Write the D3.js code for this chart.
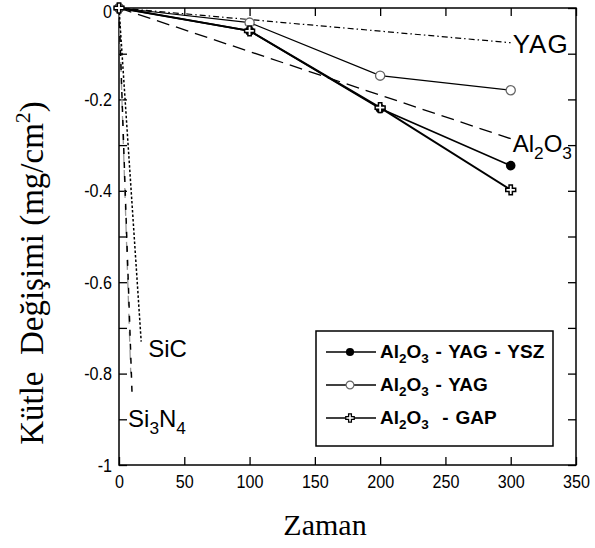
<!DOCTYPE html>
<html>
<head>
<meta charset="utf-8">
<script src="https://cdn.jsdelivr.net/npm/d3@7"></script>
<style>
  body { margin: 0; background: #fff; }
  svg { display: block; }
  text { font-family: "Liberation Sans", Arial, sans-serif; fill: #000; }
  .serif { font-family: "Liberation Serif", "Times New Roman", serif; }
</style>
</head>
<body>
<svg id="chart" width="595" height="548"></svg>
<script>
// measured series, time vs. mass change
var timeVals = [0, 100, 200, 300];
var yszVals = [0, -0.05, -0.22, -0.345];
var yagVals = [0, -0.032, -0.148, -0.18];
var gapVals = [0, -0.05, -0.218, -0.398];

// reference lines (start and end point)
var refYagX = [0, 300], refYagY = [0, -0.076];
var refAlX = [0, 300], refAlY = [0, -0.286];
var refSicX = [0, 17], refSicY = [0, -0.73];
var refSiNX = [0, 10], refSiNY = [0, -0.845];
var refGrayX = [0, 9], refGrayY = [0, -0.8];

var xTicks = [0, 50, 100, 150, 200, 250, 300, 350];
var yTicks = [0, -0.1, -0.2, -0.3, -0.4, -0.5, -0.6, -0.7, -0.8, -0.9, -1];
var yLabelTicks = [0, -0.2, -0.4, -0.6, -0.8, -1];

var svg = d3.select('#chart');
var x = d3.scaleLinear().domain([0, 350]).range([119, 576]);
var y = d3.scaleLinear().domain([-1, 0]).range([465, 8]);
var sx = 0.85;

function yFmt(d) {
  var hit = yLabelTicks.some(function(v) { return Math.abs(v - d) < 1e-9; });
  if (!hit) return '';
  if (d === 0) return '0';
  if (d === -1) return '-1';
  return d.toFixed(1);
}

// axes with inward ticks
var gx = svg.append('g').attr('transform', 'translate(0,465)')
  .call(d3.axisBottom(x).tickValues(xTicks).tickSize(-8).tickPadding(10).tickFormat(d3.format('d')));
var gxt = svg.append('g').attr('transform', 'translate(0,8)')
  .call(d3.axisTop(x).tickValues(xTicks).tickSize(-8).tickFormat(''));
var gy = svg.append('g').attr('transform', 'translate(119,0)')
  .call(d3.axisLeft(y).tickValues(yTicks).tickSize(-8).tickPadding(7).tickFormat(yFmt));
var gyr = svg.append('g').attr('transform', 'translate(576,0)')
  .call(d3.axisRight(y).tickValues(yTicks).tickSize(-8).tickFormat(''));

[gx, gxt, gy, gyr].forEach(function(g) {
  g.select('.domain').remove();
  g.selectAll('.tick line').attr('stroke', '#000').attr('stroke-width', 1.3);
  g.selectAll('text').attr('font-size', 19).attr('font-family', '"Liberation Sans", Arial, sans-serif').attr('fill', '#000');
});
gx.selectAll('text').attr('transform', 'scale(' + sx + ',1)');
gy.selectAll('text').attr('x', -7 / sx).attr('transform', 'scale(' + sx + ',1)');
// keep the top "0" inside the picture
gy.selectAll('.tick').filter(function(d) { return d === 0; }).select('text').attr('dy', '0.5em');

svg.append('rect')
  .attr('x', x(0)).attr('y', y(0))
  .attr('width', x(350) - x(0)).attr('height', y(-1) - y(0))
  .attr('fill', 'none').attr('stroke', '#000').attr('stroke-width', 1.5);

function zipXY(xs, ys) { return xs.map(function(v, i) { return [v, ys[i]]; }); }
var line = d3.line().x(function(d) { return x(d[0]); }).y(function(d) { return y(d[1]); });

// reference lines
var refs = [
  { pts: zipXY(refGrayX, refGrayY), dash: '10,8', color: '#999', w: 1.3 },
  { pts: zipXY(refYagX, refYagY), dash: '6,3,1.5,3', color: '#000', w: 1.2 },
  { pts: zipXY(refAlX, refAlY), dash: '13,7', color: '#000', w: 1.3 },
  { pts: zipXY(refSicX, refSicY), dash: '2.5,2', color: '#000', w: 1.5 },
  { pts: zipXY(refSiNX, refSiNY), dash: '6,8', color: '#000', w: 1.5 }
];
svg.selectAll('.ref').data(refs).enter().append('path')
  .attr('class', 'ref')
  .attr('d', function(d) { return line(d.pts); })
  .attr('fill', 'none')
  .attr('stroke', function(d) { return d.color; })
  .attr('stroke-width', function(d) { return d.w; })
  .attr('stroke-dasharray', function(d) { return d.dash; });

// series lines
var series = [
  { name: 'ysz', vals: yszVals, w: 1.6 },
  { name: 'yag', vals: yagVals, w: 1.2 },
  { name: 'gap', vals: gapVals, w: 1.9 }
];
svg.selectAll('.series').data(series).enter().append('path')
  .attr('class', 'series')
  .attr('d', function(d) { return line(zipXY(timeVals, d.vals)); })
  .attr('fill', 'none').attr('stroke', '#000')
  .attr('stroke-width', function(d) { return d.w; });

var crossSym = d3.symbol().type(d3.symbolCross).size(55);
function drawMarker(g, kind) {
  if (kind === 'ysz') {
    g.append('circle').attr('r', 4.8).attr('fill', '#000');
  } else if (kind === 'yag') {
    g.append('circle').attr('r', 4.6).attr('fill', '#fff').attr('stroke', '#666').attr('stroke-width', 1.3);
  } else {
    g.append('path').attr('d', crossSym()).attr('fill', '#fff').attr('stroke', '#000').attr('stroke-width', 1.5);
  }
}
series.forEach(function(s) {
  timeVals.forEach(function(t, i) {
    var g = svg.append('g').attr('transform', 'translate(' + x(t) + ',' + y(s.vals[i]) + ')');
    drawMarker(g, s.name);
  });
});

// labels on the reference lines
function subLabel(px, py, size, parts) {
  var t = svg.append('text').attr('x', px).attr('y', py).attr('font-size', size);
  parts.forEach(function(p) {
    if (p[1]) {
      t.append('tspan').attr('font-size', size * 0.72).attr('dy', size * 0.3).text(p[0]);
    } else {
      t.append('tspan').attr('dy', p[2] ? -size * 0.3 : 0).text(p[0]);
    }
  });
  return t;
}
svg.append('text').attr('x', x(refYagX[1]) + 2).attr('y', y(refYagY[1]) + 10)
  .attr('font-size', 26).attr('letter-spacing', 1).text('YAG');
subLabel(x(refAlX[1]) + 2, y(refAlY[1]) + 13, 24, [['Al'], ['2', true], ['O', false, true], ['3', true]]);
svg.append('text').attr('x', x(refSicX[1]) + 7).attr('y', y(refSicY[1]) + 15)
  .attr('font-size', 24).text('SiC');
subLabel(x(refSiNX[1]) - 4, y(refSiNY[1]) + 33, 24, [['Si'], ['3', true], ['N', false, true], ['4', true]]);

// legend
var legNames = ['Al2O3 - YAG - YSZ', 'Al2O3 - YAG', 'Al2O3  - GAP'];
var legend = svg.append('g');
legend.append('rect').attr('x', 316).attr('y', 331).attr('width', 237).attr('height', 115)
  .attr('fill', '#fff').attr('stroke', '#000').attr('stroke-width', 1.5);
series.forEach(function(s, i) {
  var ly = 352 + i * 33;
  legend.append('line').attr('x1', 326).attr('x2', 376).attr('y1', ly).attr('y2', ly)
    .attr('stroke', '#000').attr('stroke-width', 1.3);
  drawMarker(legend.append('g').attr('transform', 'translate(350,' + ly + ') scale(0.85)'), s.name);
  var t = legend.append('text').attr('x', 380).attr('y', ly + 6)
    .attr('font-size', 19).attr('font-weight', 'bold').attr('word-spacing', 1.5)
    .style('white-space', 'pre');
  var rest = legNames[i].slice(5);
  t.append('tspan').text('Al');
  t.append('tspan').attr('font-size', 13.5).attr('dy', 5).text('2');
  t.append('tspan').attr('dy', -5).text('O');
  t.append('tspan').attr('font-size', 13.5).attr('dy', 5).text('3');
  t.append('tspan').attr('dy', -5).text(rest);
});

// axis titles
svg.append('text').attr('class', 'serif').attr('x', 325).attr('y', 535)
  .attr('text-anchor', 'middle').attr('font-size', 30).text('Zaman');
var yt = svg.append('text').attr('class', 'serif')
  .attr('transform', 'translate(43,273) rotate(-90)')
  .attr('text-anchor', 'middle').attr('font-size', 33).style('white-space', 'pre');
yt.append('tspan').text('Kütle  Değişimi (mg/cm');
yt.append('tspan').attr('font-size', 22).attr('dy', -13).text('2');
yt.append('tspan').attr('dy', 13).text(')');
</script>
</body>
</html>
